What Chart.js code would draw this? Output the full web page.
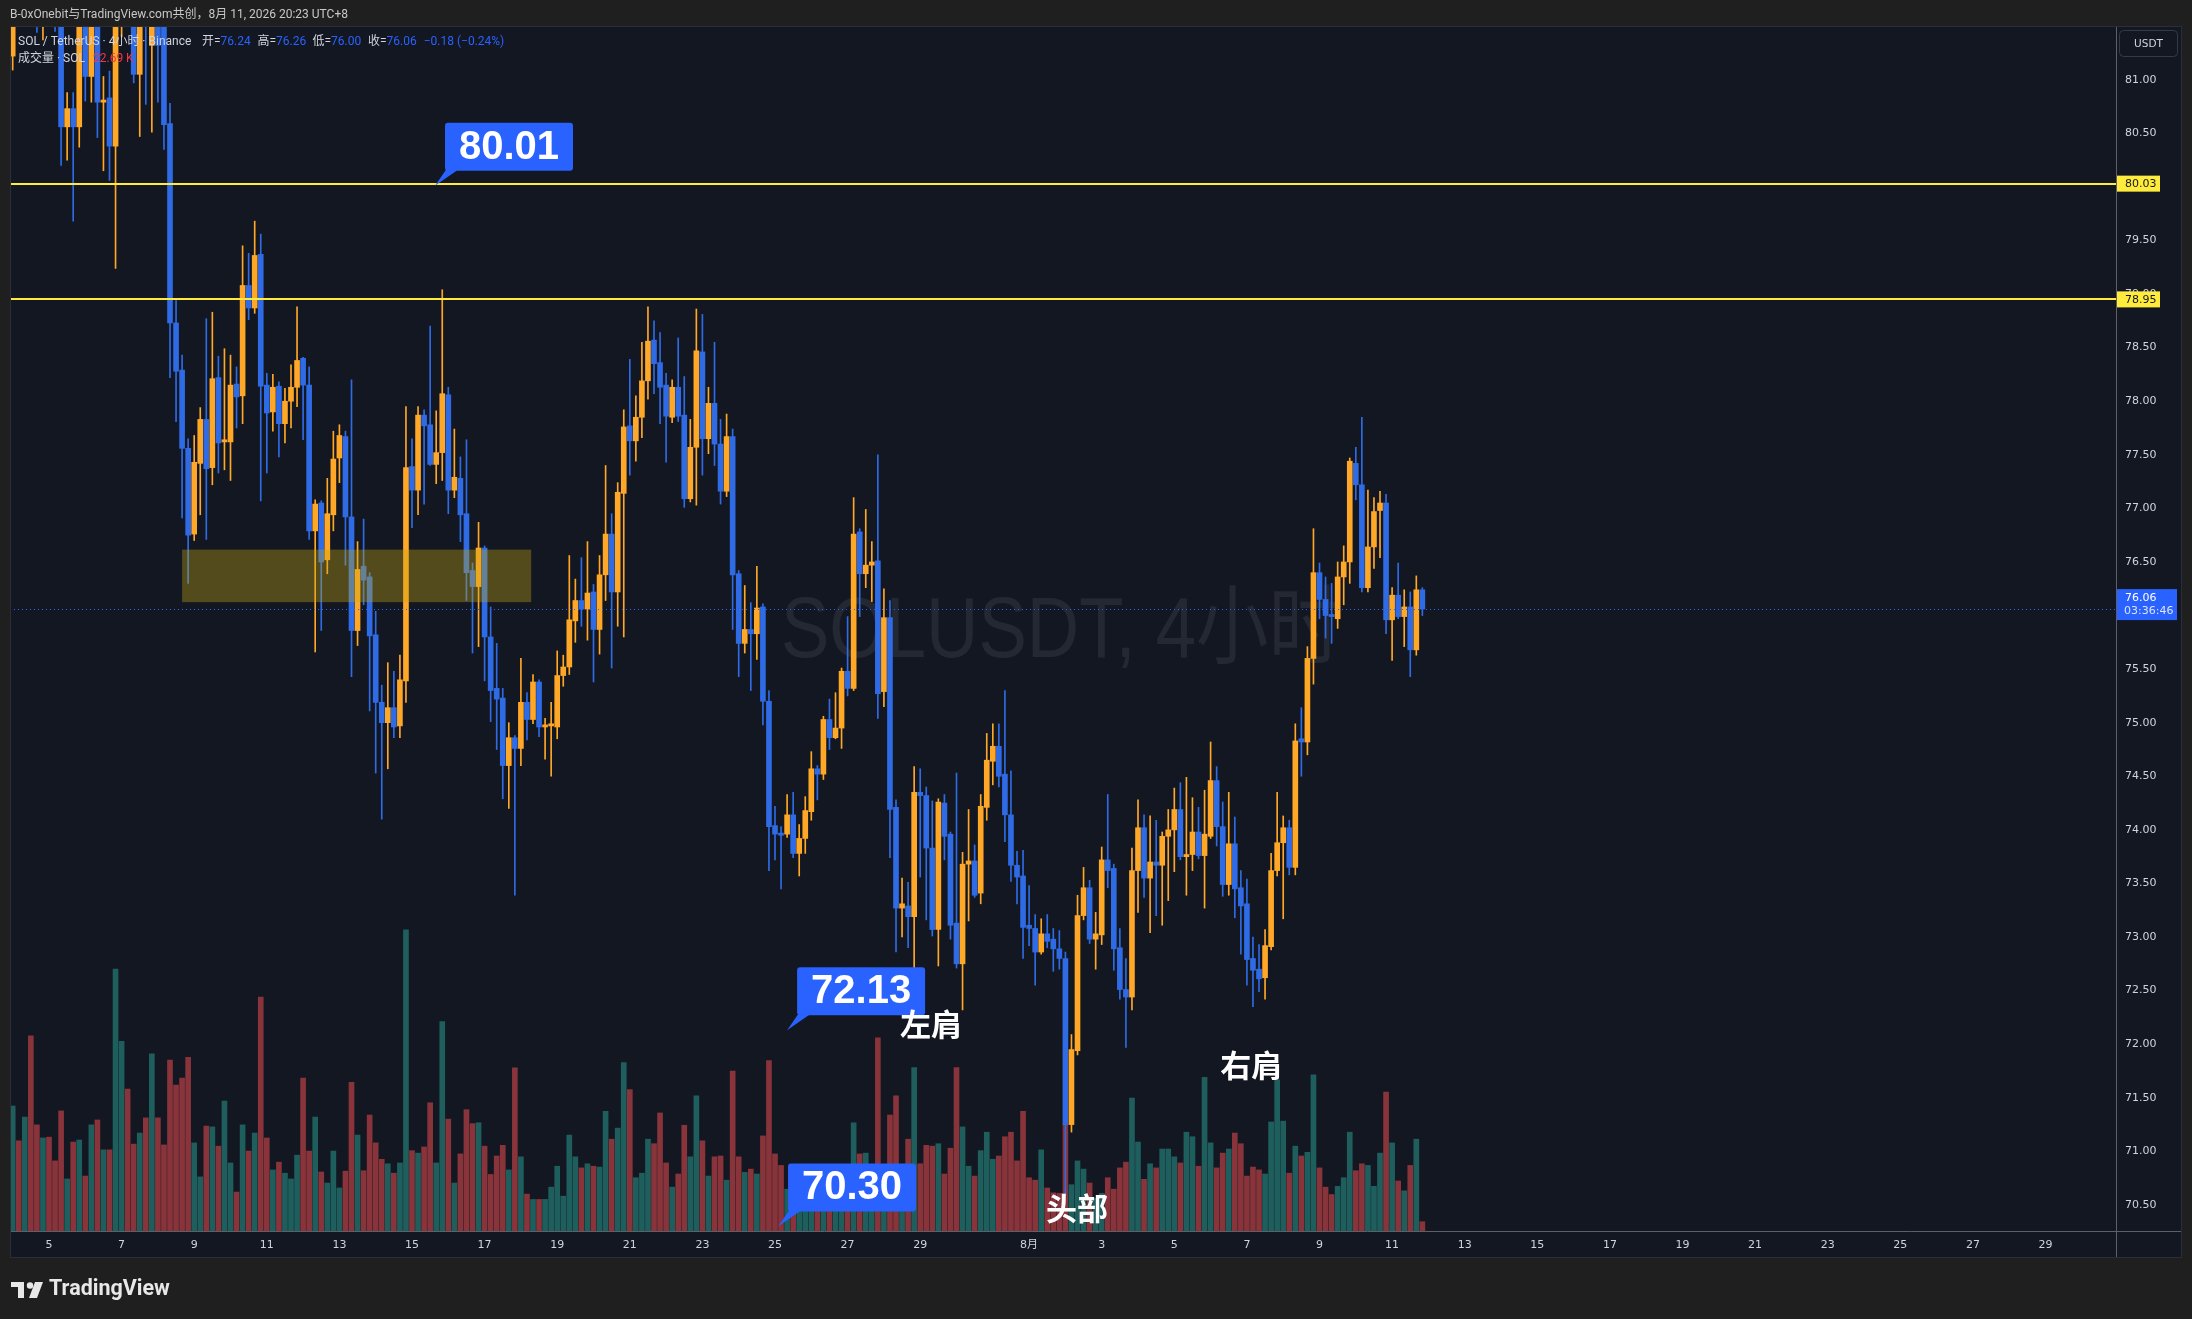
<!DOCTYPE html>
<html><head><meta charset="utf-8">
<script src="https://cdn.jsdelivr.net/npm/chart.js@4.4.1/dist/chart.umd.min.js"></script>
<style>html,body{margin:0;padding:0;background:#1f1f1f;overflow:hidden}canvas{display:block}</style>
</head><body>
<canvas id="c" width="2192" height="1319" style="width:2192px;height:1319px"></canvas>
<script>
// ---------------- DATA (SOL/USDT 4h, from 2026-07-04 00:00 UTC+8) ----------------
const openPrices = [81.22,81.85,81.70,82.05,81.75,81.62,81.80,81.66,81.60,80.56,
80.73,80.56,81.62,81.03,81.60,80.79,80.83,80.38,81.70,81.95,
81.70,81.05,81.70,81.32,81.68,81.60,80.59,78.73,78.29,77.56,
76.76,77.42,77.83,77.38,78.22,77.62,77.62,78.16,78.05,79.08,
78.87,79.37,78.15,77.90,78.14,77.79,78.00,78.13,78.40,78.15,
76.79,77.05,76.52,76.94,77.47,77.67,76.92,75.86,76.46,76.36,
75.82,75.19,75.00,75.14,74.97,75.39,77.39,77.17,77.87,77.78,
77.41,77.52,78.06,77.17,77.28,76.95,76.42,76.27,76.63,75.80,
75.32,75.23,74.60,74.86,74.76,75.19,75.03,75.38,74.96,74.97,
74.96,75.44,75.52,75.95,76.14,76.06,76.22,75.87,76.38,76.76,
76.22,77.14,77.77,77.63,77.85,78.19,78.57,78.36,78.15,77.85,
78.13,77.87,77.09,77.57,78.46,77.65,77.98,77.60,77.16,77.67,
76.39,75.74,75.87,75.83,76.08,75.20,74.04,73.97,73.96,74.14,
73.78,73.92,74.17,74.57,74.52,75.03,74.86,74.95,75.48,75.32,
76.78,76.39,76.47,76.51,75.29,75.98,74.21,73.27,73.29,73.19,
74.35,74.32,73.83,73.07,74.25,73.96,73.13,72.75,73.68,73.71,
73.41,74.21,74.64,74.78,74.52,74.14,73.67,73.57,73.11,73.08,
72.86,73.03,72.98,72.89,72.80,71.25,71.94,73.20,73.46,72.98,
73.02,73.72,73.64,72.90,72.51,72.44,73.62,74.02,73.55,73.70,
73.67,73.94,74.00,74.19,73.75,73.77,73.98,73.76,73.94,74.46,
74.03,73.49,73.87,73.46,73.31,72.80,72.70,72.62,72.91,73.62,
73.88,74.02,73.65,74.85,74.82,75.60,76.40,76.15,76.01,75.97,
76.36,76.50,77.42,77.22,76.26,76.64,76.98,77.05,75.96,76.19,
75.99,76.08,75.68,76.24];
const highPrices = [81.95,82.10,82.20,82.15,81.90,81.95,81.92,81.78,81.70,80.88,
80.88,81.75,81.80,81.75,81.70,81.03,81.08,81.85,82.10,82.05,
81.80,81.80,81.75,81.75,81.78,81.70,80.78,78.94,78.43,77.65,
77.68,77.94,78.77,78.83,78.42,78.49,78.43,78.32,79.45,79.38,
79.68,79.56,78.26,78.25,78.18,78.12,78.34,78.88,78.41,78.32,
77.08,77.07,77.28,77.72,77.78,77.72,78.20,76.69,76.90,76.40,
76.04,75.35,75.56,75.48,75.63,77.95,77.65,77.95,77.92,78.70,
77.91,79.04,78.13,77.74,77.48,77.64,76.49,76.87,76.65,76.08,
75.74,75.32,75.00,74.88,75.60,75.28,75.45,75.40,75.04,75.19,
75.67,75.63,76.56,76.34,76.54,76.69,76.29,76.56,77.40,76.95,
77.24,77.92,78.39,78.05,78.55,78.88,78.75,78.64,78.26,78.20,
78.59,78.23,77.83,78.86,78.81,78.13,78.55,77.83,77.88,77.74,
76.42,76.28,76.12,76.46,76.11,75.30,74.22,74.03,74.33,74.35,
74.05,74.31,74.73,74.60,75.06,75.22,75.28,75.51,75.99,77.10,
76.81,76.99,76.69,77.50,76.25,76.14,74.28,73.55,73.51,74.59,
74.57,74.40,74.27,74.29,74.33,73.98,74.53,73.79,74.19,73.86,
74.33,74.90,74.99,74.99,75.30,74.55,73.80,73.81,73.48,73.21,
73.17,73.21,73.08,73.06,72.86,72.09,73.39,73.65,73.53,73.23,
73.84,74.33,73.68,73.08,72.80,73.83,74.28,74.14,74.13,74.09,
73.98,74.19,74.39,74.44,74.49,74.30,74.21,74.37,74.82,74.59,
74.26,74.35,74.12,73.62,73.54,73.00,72.93,73.07,73.78,74.35,
74.13,74.09,74.99,75.14,75.71,76.81,76.49,76.36,76.30,76.50,
76.65,77.47,77.57,77.85,77.17,77.10,77.16,77.13,76.26,76.49,
76.24,76.22,76.37,76.26];
const lowPrices = [81.09,81.62,81.65,81.60,81.44,81.37,81.58,81.45,80.20,80.25,
79.68,80.37,80.80,80.79,80.46,80.15,80.06,79.24,81.40,81.58,
80.97,80.47,80.77,80.51,80.79,80.35,78.22,77.81,76.91,76.30,
76.70,76.94,76.71,77.22,77.33,77.36,77.26,77.75,77.79,78.76,
78.82,77.07,77.33,77.72,77.48,77.61,77.75,77.95,77.64,76.71,
75.66,75.86,76.39,76.79,77.24,76.47,75.43,75.72,76.10,75.11,
74.53,74.10,74.57,74.86,74.86,75.19,76.82,76.94,77.04,77.40,
77.23,77.26,76.95,77.10,76.69,76.14,75.65,75.71,75.39,75.01,
74.75,74.29,74.20,73.39,74.60,74.84,74.99,74.87,74.66,74.50,
74.85,75.34,75.45,75.75,75.90,75.77,75.38,75.64,76.14,75.51,
75.90,75.80,77.31,77.44,77.66,78.02,78.07,77.79,77.43,77.80,
77.81,77.01,77.06,77.03,77.31,77.51,77.40,77.04,77.11,75.87,
75.43,75.65,75.30,75.59,74.98,73.62,73.72,73.45,73.93,73.74,
73.57,73.78,74.09,74.28,74.47,74.75,74.85,74.76,75.25,75.30,
75.99,76.26,76.13,75.04,75.15,73.74,72.86,73.00,72.90,72.69,
73.56,73.16,73.01,72.73,73.72,72.98,72.71,72.32,73.15,73.37,
73.31,74.09,74.42,74.40,73.89,73.52,73.31,72.80,72.92,72.55,
72.84,72.90,72.68,72.70,70.60,71.18,71.90,73.16,72.94,72.70,
72.93,73.46,72.69,72.42,71.97,72.32,73.23,73.37,73.04,73.20,
73.11,73.34,73.61,73.72,73.39,73.62,73.73,73.27,73.92,73.85,
73.38,73.39,73.18,72.84,72.55,72.35,72.49,72.42,72.88,73.57,
73.17,73.58,73.58,74.50,74.70,75.36,75.97,75.79,75.74,75.88,
76.10,76.30,77.08,76.22,76.22,76.44,76.54,75.83,75.58,75.97,
75.71,75.43,75.63,76.00];
const closePrices = [81.85,81.70,82.05,81.75,81.62,81.80,81.66,81.60,80.56,80.73,
80.56,81.62,81.03,81.60,80.79,80.81,80.38,81.70,81.95,81.70,
81.05,81.65,81.58,81.68,81.32,80.58,78.73,78.28,77.56,76.75,
77.43,77.83,77.37,78.21,77.61,77.64,78.15,78.04,79.08,78.87,
79.36,78.14,77.89,78.13,77.79,78.00,78.13,78.38,78.15,76.79,
77.04,76.50,76.95,77.46,77.68,76.92,75.86,76.43,76.33,75.81,
75.19,75.00,75.14,74.96,75.40,77.38,77.17,77.87,77.77,77.41,
77.52,78.07,77.17,77.29,76.94,76.40,76.27,76.63,75.80,75.30,
75.22,74.60,74.86,74.76,75.19,75.03,75.38,74.96,74.98,74.99,
75.44,75.52,75.96,76.14,76.06,76.21,75.87,76.38,76.76,76.22,
77.15,77.76,77.63,77.85,78.19,78.56,78.35,78.13,77.86,78.13,
77.86,77.09,77.57,78.47,77.65,77.98,77.60,77.16,77.67,76.38,
75.74,75.87,75.83,76.07,75.20,74.03,73.96,73.95,74.14,73.78,
73.92,74.18,74.57,74.52,75.03,74.86,74.95,75.48,75.32,76.76,
76.39,76.47,76.50,75.27,75.98,74.19,73.27,73.31,73.19,74.35,
74.32,73.83,73.07,74.26,73.94,73.11,72.75,73.68,73.71,73.39,
74.22,74.65,74.78,74.50,74.14,73.67,73.56,73.09,73.08,72.86,
73.03,72.96,72.89,72.80,71.25,71.95,73.20,73.46,72.98,73.03,
73.72,73.62,72.89,72.51,72.44,73.62,74.02,73.55,73.70,73.67,
73.94,74.00,74.19,73.75,73.77,73.98,73.76,73.96,74.46,74.03,
73.49,73.87,73.45,73.29,72.79,72.69,72.61,72.92,73.62,73.88,
74.02,73.65,74.83,74.82,75.60,76.40,76.15,76.00,75.99,76.36,
76.50,77.44,77.22,76.26,76.64,76.97,77.05,75.96,76.19,75.99,
76.08,75.68,76.24,76.06];
const volumeK = [305,220,278,476,259,227,229,171,293,127,
217,222,134,259,271,198,198,639,463,346,
212,239,276,432,276,210,417,356,373,424,
215,132,256,254,207,317,166,95,259,195,
239,571,227,149,168,141,127,185,373,195,
278,144,117,195,105,146,363,234,147,283,
215,175,164,141,166,735,196,190,205,313,
166,511,273,117,188,296,262,264,207,138,
183,209,149,398,181,90,77,77,77,107,
158,85,234,181,154,164,158,156,292,224,
251,411,345,130,141,224,213,288,166,107,
139,258,181,330,220,134,181,183,124,390,
181,143,151,139,232,416,188,160,102,120,
95,110,140,80,150,100,90,130,110,264,
188,190,120,471,150,283,330,130,224,399,
164,209,207,213,139,202,399,254,158,134,
196,241,175,183,230,241,171,292,130,124,
198,105,93,92,261,113,171,151,117,80,
92,130,102,154,168,324,217,126,164,154,
200,200,181,166,241,230,158,375,215,154,
190,200,239,213,134,156,149,139,266,369,
268,141,207,183,192,381,154,107,89,109,
130,241,147,164,160,109,190,339,215,122,
98,160,224,22.69];
const barsPerDay = 6;                       // 4-hour candles
const xTickDay = [1,3,5,7,9,11,13,15,17,19,21,23,25,28,30,32,34,36,38,40,42,44,46,48,50,52,54,56]; // days after 7/4
const xTickLabels = ['5','7','9','11','13','15','17','19','21','23','25','27','29','8月','3','5','7','9','11','13','15','17','19','21','23','25','27','29'];
const priceTicks = [70.5,71,71.5,72,72.5,73,73.5,74,74.5,75,75.5,76,76.5,77,77.5,78,78.5,79,79.5,80,80.5,81];
const levelPrices = [80.03, 78.95];
const noteValues = ['80.01','72.13','70.30'];
const noteIndex = [69.8, 128, 126.5];
const patternTexts = ['左肩','头部','右肩'];
const patternIndex = [151.8, 175.9, 204.7];
const patternPrice = [72.19, 70.47, 71.80];
const zoneIndex = [28, 85.7];
const zonePrice = [76.125, 76.615];
const countdown = '03:36:46';

// ---------------- BUILD ----------------
const N = openPrices.length;
const idx = [...Array(N).keys()];
const isUp = idx.map(i => closePrices[i] >= openPrices[i]);
const UPC = '#ffa726', DNC = '#2e6be5', VUP = '#1e5f5e', VDN = '#88343a';
const lastClose = closePrices[N-1], lastOpen = openPrices[N-1];

const wickData = idx.map(i => ({x:i, y:[lowPrices[i], highPrices[i]]}));
const bodyData = idx.map(i => {
  let a = Math.min(openPrices[i], closePrices[i]), b = Math.max(openPrices[i], closePrices[i]);
  if (b - a < 0.01) { const m = (a+b)/2; a = m - 0.005; b = m + 0.005; }
  return {x:i, y:[a,b]};
});
const volData = idx.map(i => ({x:i, y:volumeK[i]}));

const FONT = '"DejaVu Sans", "Noto Sans CJK SC", sans-serif';
const UIFONT = 'Roboto, "Noto Sans CJK SC", sans-serif';

function rr(ctx,x,y,w,h,r){ctx.beginPath();ctx.moveTo(x+r,y);ctx.lineTo(x+w-r,y);ctx.quadraticCurveTo(x+w,y,x+w,y+r);ctx.lineTo(x+w,y+h-r);ctx.quadraticCurveTo(x+w,y+h,x+w-r,y+h);ctx.lineTo(x+r,y+h);ctx.quadraticCurveTo(x,y+h,x,y+h-r);ctx.lineTo(x,y+r);ctx.quadraticCurveTo(x,y,x+r,y);ctx.closePath();}
const fmt = v => v.toFixed(2).replace('-', '−');

const tvPlugin = {
  id:'tv',
  beforeDraw(chart){
    const ctx = chart.ctx;
    ctx.save();
    ctx.fillStyle = '#1f1f1f'; ctx.fillRect(0,0,chart.width,chart.height);
    ctx.fillStyle = '#131722'; ctx.fillRect(10,26,2172,1232);
    ctx.restore();
  },
  beforeDatasetsDraw(chart){
    const ctx = chart.ctx, a = chart.chartArea;
    ctx.save();
    ctx.beginPath(); ctx.rect(a.left,a.top,a.right-a.left,a.bottom-a.top); ctx.clip();
    ctx.font = '86px "Liberation Sans", "Noto Sans CJK SC", sans-serif';
    const txt = 'SOLUSDT, 4小时';
    const w = ctx.measureText(txt).width;
    const sx = 560 / w;
    ctx.translate((a.left+a.right)/2 - 2, 657);
    ctx.scale(sx, 1);
    ctx.fillStyle = 'rgba(255,255,255,0.075)';
    ctx.textAlign = 'center'; ctx.textBaseline = 'alphabetic';
    ctx.fillText(txt, 0, 0);
    ctx.restore();
  },
  afterDatasetsDraw(chart){
    const ctx = chart.ctx, a = chart.chartArea, xs = chart.scales.x, ys = chart.scales.y;
    ctx.save();
    ctx.beginPath(); ctx.rect(a.left,a.top,a.right-a.left,a.bottom-a.top); ctx.clip();
    // zone box
    const zx0 = xs.getPixelForValue(zoneIndex[0]), zx1 = xs.getPixelForValue(zoneIndex[1]);
    const zy0 = ys.getPixelForValue(zonePrice[1]), zy1 = ys.getPixelForValue(zonePrice[0]);
    ctx.fillStyle = 'rgba(200,170,20,0.36)';
    ctx.fillRect(zx0, zy0, zx1-zx0, zy1-zy0);
    // horizontal levels
    ctx.strokeStyle = '#ffeb3b'; ctx.lineWidth = 2;
    levelPrices.forEach(p => { const y = Math.round(ys.getPixelForValue(p)); ctx.beginPath(); ctx.moveTo(a.left,y); ctx.lineTo(a.right,y); ctx.stroke(); });
    // last price dotted line
    const ly = Math.round(ys.getPixelForValue(lastClose)) + 0.5;
    ctx.strokeStyle = '#2962ff'; ctx.lineWidth = 1; ctx.setLineDash([1,3]);
    ctx.beginPath(); ctx.moveTo(a.left,ly); ctx.lineTo(a.right,ly); ctx.stroke();
    ctx.setLineDash([]);
    // price notes
    noteValues.forEach((t,k) => {
      const tx = xs.getPixelForValue(noteIndex[k]), ty = ys.getPixelForValue(parseFloat(t));
      const bx = tx + 10, bw = 128, bh = 48, by = ty - 15 - bh;
      ctx.fillStyle = '#2962ff';
      rr(ctx,bx,by,bw,bh,3); ctx.fill();
      ctx.beginPath(); ctx.moveTo(bx+1,by+bh-1); ctx.lineTo(bx+13,by+bh-1); ctx.lineTo(tx,ty); ctx.closePath(); ctx.fill();
      ctx.fillStyle = '#ffffff'; ctx.font = 'bold 40px "Liberation Sans", Arial, sans-serif';
      ctx.textAlign = 'center'; ctx.textBaseline = 'middle';
      ctx.fillText(t, bx+bw/2, by+bh/2+1);
    });
    // pattern labels
    ctx.font = 'bold 31px "Noto Sans CJK SC", sans-serif';
    ctx.fillStyle = '#ffffff'; ctx.textAlign = 'center'; ctx.textBaseline = 'middle';
    patternTexts.forEach((t,k) => ctx.fillText(t, xs.getPixelForValue(patternIndex[k]), ys.getPixelForValue(patternPrice[k])));
    ctx.restore();
  },
  afterDraw(chart){
    const ctx = chart.ctx, a = chart.chartArea, ys = chart.scales.y;
    ctx.save();
    // axis lines
    ctx.strokeStyle = '#5d606b'; ctx.lineWidth = 1;
    ctx.beginPath(); ctx.moveTo(a.right+0.5, 26); ctx.lineTo(a.right+0.5, 1258); ctx.stroke();
    ctx.beginPath(); ctx.moveTo(10, a.bottom+0.5); ctx.lineTo(2182, a.bottom+0.5); ctx.stroke();
    ctx.strokeStyle = '#2a2e39';
    ctx.strokeRect(10.5, 26.5, 2171, 1231);
    // USDT box
    ctx.strokeStyle = '#363a45'; rr(ctx, 2119.5, 30.5, 58, 26, 4); ctx.stroke();
    ctx.fillStyle = '#d1d4dc'; ctx.font = '10.5px ' + FONT; ctx.textAlign = 'center'; ctx.textBaseline = 'middle';
    ctx.fillText('USDT', 2148.5, 44);
    // level labels on axis
    ctx.font = '11px ' + FONT; ctx.textAlign = 'left';
    levelPrices.forEach(p => {
      const y = ys.getPixelForValue(p);
      ctx.fillStyle = '#ffeb3b'; ctx.fillRect(a.right+1, y-8, 43, 16);
      ctx.fillStyle = '#131722'; ctx.fillText(p.toFixed(2), a.right+9, y+0.5);
    });
    // last price label
    const ly = ys.getPixelForValue(lastClose);
    ctx.fillStyle = '#2962ff'; ctx.fillRect(a.right+1, ly-20, 60, 31);
    ctx.fillStyle = '#ffffff'; ctx.fillText(lastClose.toFixed(2), a.right+9, ly-11);
    ctx.fillStyle = '#dbe4ff'; ctx.fillText(countdown, a.right+8, ly+2.5);
    // header
    ctx.font = '12px ' + UIFONT; ctx.fillStyle = '#c8c8c8'; ctx.textBaseline = 'middle';
    ctx.fillText('B-0xOnebit与TradingView.com共创，8月 11, 2026 20:23 UTC+8', 10, 15);
    // legend
    ctx.fillStyle = '#d1d4dc';
    ctx.fillText('SOL / TetherUS · 4小时 · Binance', 18, 41.5);
    const ohlc = [['开',lastOpen],['高',highPrices[N-1]],['低',lowPrices[N-1]],['收',lastClose]];
    const lx = [202, 257.5, 312.5, 368];
    let cur = 0;
    ohlc.forEach((it,k) => {
      let x = Math.max(lx[k], cur + 6);
      ctx.fillStyle = '#d1d4dc'; ctx.fillText(it[0]+'=', x, 41.5);
      x += ctx.measureText(it[0]+'=').width;
      const vs = it[1].toFixed(2);
      ctx.fillStyle = '#2962ff'; ctx.fillText(vs, x, 41.5);
      cur = x + ctx.measureText(vs).width;
    });
    const chg = lastClose - lastOpen, pct = chg / lastOpen * 100;
    ctx.fillStyle = '#2962ff'; ctx.fillText(fmt(chg) + ' (' + fmt(pct) + '%)', Math.max(422, cur + 7), 41.5);
    ctx.fillStyle = '#d1d4dc'; ctx.fillText('成交量 · SOL', 18, 59);
    ctx.fillStyle = '#f23645'; ctx.fillText(volumeK[N-1].toFixed(2) + ' K', 93, 59);
    // logo
    ctx.fillStyle = '#e8e8e8';
    ctx.fillRect(11, 1282, 13, 5); ctx.fillRect(18, 1282, 6, 16);
    ctx.beginPath(); ctx.arc(30, 1285.5, 3.2, 0, Math.PI*2); ctx.fill();
    ctx.beginPath(); ctx.moveTo(35,1282); ctx.lineTo(43,1282); ctx.lineTo(37,1298); ctx.lineTo(29,1298); ctx.closePath(); ctx.fill();
    ctx.font = 'bold 21.5px ' + UIFONT; ctx.textBaseline = 'middle';
    ctx.fillText('TradingView', 49, 1290);
    ctx.restore();
  }
};

new Chart(document.getElementById('c'), {
  type: 'bar',
  data: { datasets: [
    { label:'成交量', data: volData, yAxisID:'vol', backgroundColor: idx.map(i => isUp[i] ? VUP : VDN), barThickness:5, grouped:false, order:3, clip:0 },
    { label:'wick', data: wickData, yAxisID:'y', backgroundColor: idx.map(i => isUp[i] ? UPC : DNC), barThickness:1, grouped:false, order:2, clip:0 },
    { label:'body', data: bodyData, yAxisID:'y', backgroundColor: idx.map(i => isUp[i] ? UPC : DNC), barThickness:5, grouped:false, order:1, clip:0 }
  ]},
  options: {
    responsive:false, animation:false, devicePixelRatio:1, events:[],
    layout:{ padding:{ left:10, top:26, right:10, bottom:61 } },
    plugins:{ legend:{display:false}, tooltip:{enabled:false} },
    scales:{
      x:{ type:'linear', min:-0.446, max:347.65, offset:false,
          grid:{display:false, drawTicks:false, offset:false}, border:{display:false},
          afterBuildTicks: s => { s.ticks = xTickDay.map(d => ({value: d*barsPerDay})); },
          afterFit: s => { s.height = 27; },
          ticks:{ autoSkip:false, maxRotation:0, minRotation:0, padding:8, color:'#d1d4dc',
                  font:{ family:FONT, size:11 }, callback:(v,i) => xTickLabels[i] } },
      y:{ type:'linear', position:'right', min:70.257, max:81.501,
          grid:{display:false, drawTicks:false}, border:{display:false},
          afterBuildTicks: s => { s.ticks = priceTicks.map(v => ({value:v})); },
          afterFit: s => { s.width = 66; },
          ticks:{ padding:9, color:'#d1d4dc', font:{ family:FONT, size:11 }, callback: v => Number(v).toFixed(2) } },
      vol:{ type:'linear', display:false, min:0, max:2940 }
    }
  },
  plugins:[tvPlugin]
});
</script>
</body></html>
